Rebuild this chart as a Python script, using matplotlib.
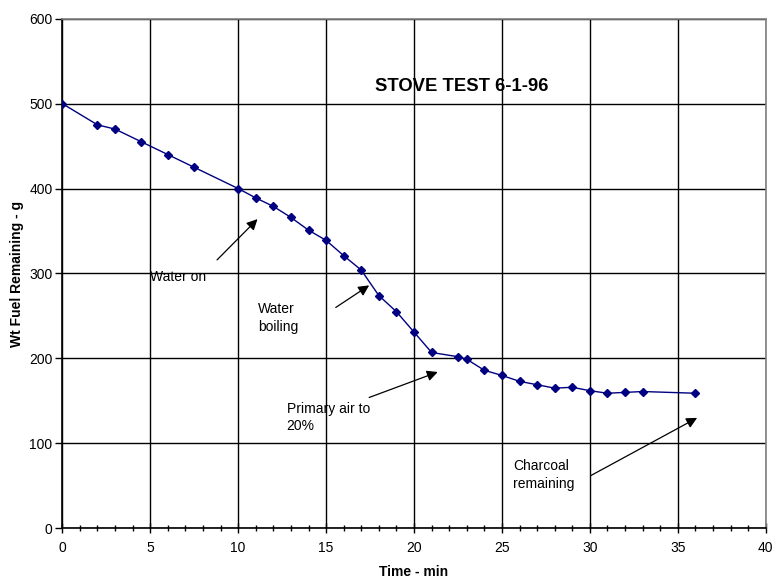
import matplotlib
matplotlib.use("Agg")
import matplotlib.pyplot as plt
from matplotlib.ticker import MultipleLocator

plt.rcParams['font.family'] = ['Liberation Sans', 'DejaVu Sans']

# time (min) and remaining fuel weight (g)
time_min = [0, 2, 3, 4.5, 6, 7.5, 10, 11, 12, 13, 14, 15, 16, 17, 18, 19, 20,
            21, 22.5, 23, 24, 25, 26, 27, 28, 29, 30, 31, 32, 33, 36]
fuel_g = [500, 475, 470, 455, 440, 425, 400, 389, 379, 366, 351, 339, 321, 304,
          274, 255, 231, 207, 202, 199, 186, 180, 173, 169, 165, 166, 162, 159,
          160, 161, 159]

# notes: (text, text pos, arrow tail, arrow head)
notes = [
    ("Water on", (5.0, 304), (8.8, 316), (11.1, 364)),
    ("Water\nboiling", (11.15, 266), (15.55, 260), (17.45, 286)),
    ("Primary air to\n20%", (12.75, 149), (17.45, 154), (21.35, 184)),
    ("Charcoal\nremaining", (25.65, 81), (30.05, 62), (36.1, 130)),
]

fig = plt.figure(figsize=(7.74, 5.82), dpi=100)
ax = fig.add_axes([0.0805, 0.0923, 0.9088, 0.8756])

ax.plot(time_min, fuel_g, color='#000080', lw=1.0, marker='D', ms=4,
        mec='#000080', mfc='#000080', zorder=3)

ax.set_xlim(0, 40)
ax.set_ylim(0, 600)
ax.xaxis.set_major_locator(MultipleLocator(5))
ax.xaxis.set_minor_locator(MultipleLocator(1))
ax.yaxis.set_major_locator(MultipleLocator(100))
ax.grid(True, which='major', color='black', lw=1.0)
ax.set_axisbelow(True)

ax.tick_params(axis='x', which='major', direction='inout', length=7, width=1,
               labelsize=10, pad=6)
ax.tick_params(axis='x', which='minor', direction='inout', length=5, width=1)
ax.tick_params(axis='y', which='major', direction='out', length=5, width=1,
               labelsize=10, pad=2)

for s in ['left', 'bottom']:
    ax.spines[s].set_color('black')
    ax.spines[s].set_linewidth(1.2)
for s in ['top', 'right']:
    ax.spines[s].set_color('#808080')
    ax.spines[s].set_linewidth(1.2)

ax.set_xlabel('Time - min', fontsize=10, fontweight='bold', labelpad=7)
ax.set_ylabel('Wt Fuel Remaining - g', fontsize=10, fontweight='bold', labelpad=4)

ax.text(22.7, 520, 'STOVE TEST 6-1-96', fontsize=13.3, fontweight='bold',
        ha='center', va='center')

for txt, pos, tail, head in notes:
    ax.text(pos[0], pos[1], txt, fontsize=10, ha='left', va='top',
            linespacing=1.3)
    ax.annotate('', xy=head, xytext=tail,
                arrowprops=dict(arrowstyle='-|>', color='black', lw=0.9,
                                mutation_scale=16, shrinkA=0, shrinkB=0))

fig.savefig('out.png', dpi=100)
